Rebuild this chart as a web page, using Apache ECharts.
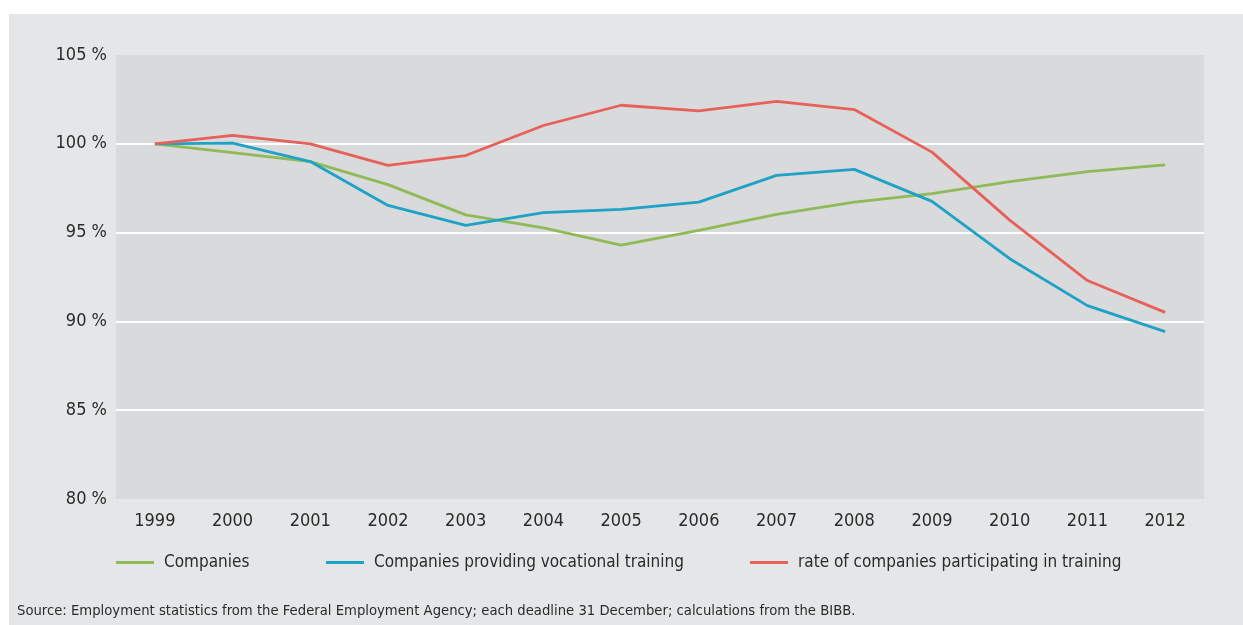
<!DOCTYPE html>
<html>
<head>
<meta charset="utf-8">
<script src="https://cdn.jsdelivr.net/npm/echarts@6/dist/echarts.min.js"></script>
<style>
  html, body { margin: 0; padding: 0; background: #ffffff; }
  #chart { width: 1243px; height: 625px; }
</style>
</head>
<body>
<div id="chart"></div>
<script>
// Index values, 1999 = 100 %
const years = ['1999','2000','2001','2002','2003','2004','2005','2006','2007','2008','2009','2010','2011','2012'];
const companies = [100, 99.5, 99.0, 97.7, 96.0, 95.26, 94.29, 95.13, 96.03, 96.71, 97.19, 97.87, 98.43, 98.81];
const trainingCompanies = [100, 100.04, 99.0, 96.53, 95.41, 96.12, 96.31, 96.72, 98.22, 98.56, 96.76, 93.53, 90.89, 89.42];
const participationRate = [100, 100.47, 100.0, 98.78, 99.34, 101.03, 102.17, 101.85, 102.39, 101.93, 99.53, 95.7, 92.3, 90.51];
const yTicks = { min: 80, max: 105, step: 5 };
const seriesNames = ['Companies', 'Companies providing vocational training', 'rate of companies participating in training'];
const sourceNote = 'Source: Employment statistics from the Federal Employment Agency; each deadline 31 December; calculations from the BIBB.';

const FONT = "'DejaVu Sans Condensed', 'Liberation Sans Narrow', 'Liberation Sans', sans-serif";
const TEXT = '#2b2b2b';
const colors = ['#8fba57', '#1ea2c5', '#e8605a'];

const chart = echarts.init(document.getElementById('chart'), null, { renderer: 'canvas' });

const legendLefts = [116, 326, 750];

chart.setOption({
  backgroundColor: '#ffffff',
  textStyle: { fontFamily: FONT },
  graphic: [{
    type: 'rect',
    silent: true,
    z: -10,
    shape: { x: 9, y: 14, width: 1234, height: 611 },
    style: { fill: '#e5e6e8' }
  }],
  title: {
    text: sourceNote,
    left: 17,
    top: 604,
    padding: 0,
    textStyle: { fontFamily: FONT, fontSize: 14.7, fontWeight: 'normal', color: TEXT }
  },
  legend: seriesNames.map((n, i) => ({
    data: [n],
    left: legendLefts[i],
    top: 554,
    padding: 0,
    icon: 'rect',
    itemWidth: 38,
    itemHeight: 3,
    itemGap: 0,
    textStyle: { fontFamily: FONT, fontSize: 17, color: TEXT, padding: [0, 0, 0, 5] }
  })),
  grid: {
    left: 116, right: 39, top: 55, bottom: 126,
    show: true, backgroundColor: '#d9dadc', borderWidth: 0
  },
  xAxis: {
    type: 'category',
    data: years,
    boundaryGap: true,
    axisLine: { show: false },
    axisTick: { show: false },
    axisLabel: { fontFamily: FONT, fontSize: 18, color: TEXT, margin: 13 }
  },
  yAxis: {
    type: 'value',
    min: yTicks.min,
    max: yTicks.max,
    interval: yTicks.step,
    axisLine: { show: false },
    axisTick: { show: false },
    axisLabel: { fontFamily: FONT, fontSize: 18, color: TEXT, margin: 9, formatter: '{value} %' },
    splitLine: { show: true, showMinLine: false, showMaxLine: false, lineStyle: { color: '#ffffff', width: 2 } }
  },
  series: [companies, trainingCompanies, participationRate].map((d, i) => ({
    name: seriesNames[i],
    type: 'line',
    data: d,
    symbol: 'none',
    smooth: false,
    lineStyle: { color: colors[i], width: 2.8 },
    itemStyle: { color: colors[i] },
    z: 2 + i
  })),
  animation: false
});
</script>
</body>
</html>
